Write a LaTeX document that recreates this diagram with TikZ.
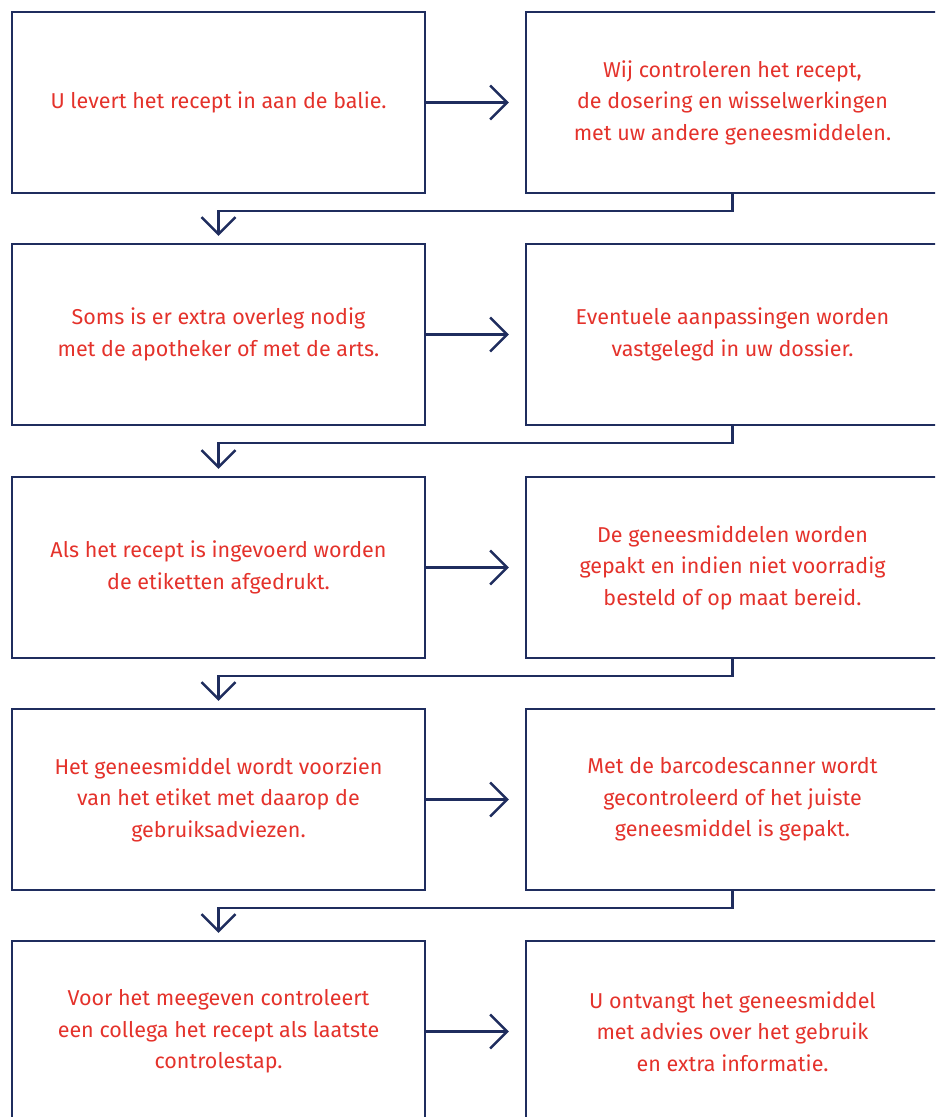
\documentclass[tikz,border=0pt]{standalone}
\usepackage{fontspec}
\setmainfont{Fira Sans}
\usepackage{xcolor}
\usetikzlibrary{arrows.meta}

\definecolor{navy}{HTML}{1F2D5E}
\definecolor{tekstrood}{HTML}{E4322B}

\begin{document}
\begin{tikzpicture}[x=1pt, y=-1pt,
  stap/.style={draw=navy, line width=2.4pt, minimum width=413pt, minimum height=181pt,
    inner sep=0pt, text=tekstrood, align=center, font=\fontsize{21.5}{31.5}\selectfont},
  pijl/.style={navy, line width=2.4pt, -{Straight Barb[length=17pt, width=34pt]}}]
  % Page
  \useasboundingbox (0,0) rectangle (935,1117);
  \clip (0,0) rectangle (935,1117);

  % Row 1
  \node[stap] (l1) at (218.5, 102.5) {U levert het recept in aan de balie.};
  \node[stap] (r1) at (732.5, 102.5) {Wij controleren het recept,\\de dosering en wisselwerkingen\\met uw andere geneesmiddelen.};

  % Row 2
  \node[stap] (l2) at (218.5, 334.5) {Soms is er extra overleg nodig\\met de apotheker of met de arts.};
  \node[stap] (r2) at (732.5, 334.5) {Eventuele aanpassingen worden\\vastgelegd in uw dossier.};

  % Row 3
  \node[stap] (l3) at (218.5, 567.5) {Als het recept is ingevoerd worden\\de etiketten afgedrukt.};
  \node[stap] (r3) at (732.5, 567.5) {De geneesmiddelen worden\\gepakt en indien niet voorradig\\besteld of op maat bereid.};

  % Row 4
  \node[stap] (l4) at (218.5, 799.5) {Het geneesmiddel wordt voorzien\\van het etiket met daarop de\\gebruiksadviezen.};
  \node[stap] (r4) at (732.5, 799.5) {Met de barcodescanner wordt\\gecontroleerd of het juiste\\geneesmiddel is gepakt.};

  % Row 5
  \node[stap] (l5) at (218.5, 1031.5) {Voor het meegeven controleert\\een collega het recept als laatste\\controlestap.};
  \node[stap] (r5) at (732.5, 1031.5) {U ontvangt het geneesmiddel\\met advies over het gebruik\\en extra informatie.};

  % Arrows left to right
  \draw[pijl, shorten >=16pt] (l1.east) -- (r1.west);
  \draw[pijl, shorten >=16pt] (l2.east) -- (r2.west);
  \draw[pijl, shorten >=16pt] (l3.east) -- (r3.west);
  \draw[pijl, shorten >=16pt] (l4.east) -- (r4.west);
  \draw[pijl, shorten >=16pt] (l5.east) -- (r5.west);

  % Arrows to next row
  \draw[pijl, shorten >=7pt] (r1.south) -- ++(0,17) -| (l2.north);
  \draw[pijl, shorten >=7pt] (r2.south) -- ++(0,17) -| (l3.north);
  \draw[pijl, shorten >=7pt] (r3.south) -- ++(0,17) -| (l4.north);
  \draw[pijl, shorten >=7pt] (r4.south) -- ++(0,17) -| (l5.north);
\end{tikzpicture}
\end{document}
